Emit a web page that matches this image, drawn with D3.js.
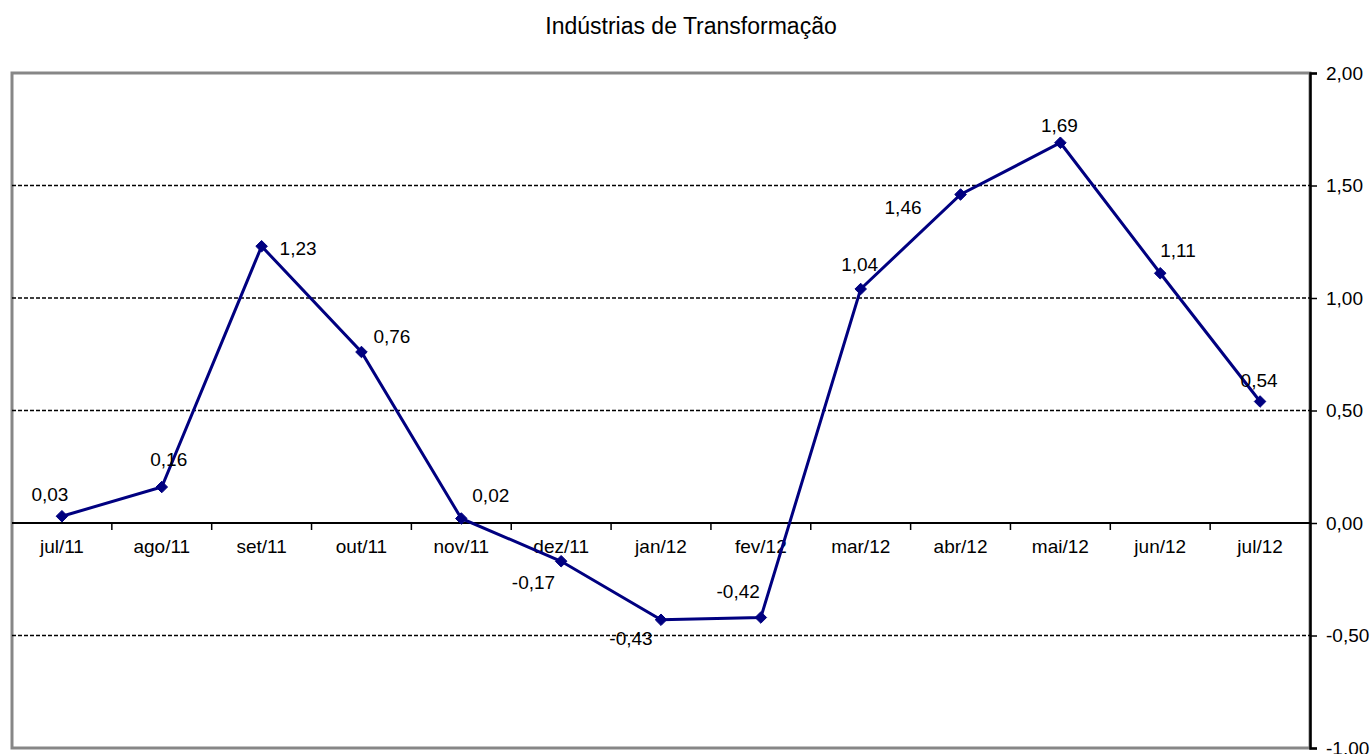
<!DOCTYPE html>
<html>
<head>
<meta charset="utf-8">
<script src="https://cdn.jsdelivr.net/npm/d3@7"></script>
<style>
  body { margin: 0; background: #fff; }
  text { font-family: "Liberation Sans", Arial, sans-serif; fill: #000; }
</style>
</head>
<body>
<script>
// chart data
const months = ["jul/11", "ago/11", "set/11", "out/11", "nov/11", "dez/11", "jan/12",
                "fev/12", "mar/12", "abr/12", "mai/12", "jun/12", "jul/12"];
const values = [0.03, 0.16, 1.23, 0.76, 0.02, -0.17, -0.43, -0.42, 1.04, 1.46, 1.69, 1.11, 0.54];
const yTicks = [-1, -0.5, 0, 0.5, 1, 1.5, 2];
const gridValues = [-0.5, 0.5, 1, 1.5];

// where each data label sits relative to its point: [dx, dy, anchor]
const labelPlacement = [
    [-12, -15, "middle"], [7, -21, "middle"], [18, 9, "start"], [12, -9, "start"],
    [11, -17, "start"], [-6, 28, "end"], [-30, 25, "middle"], [-1, -20, "end"],
    [-1, -18, "middle"], [-39, 19, "end"], [-1, -11, "middle"], [0, -16, "start"],
    [-1, -15, "middle"]
];

const DIM = { width: 1372, height: 754, left: 12, right: 1310, top: 73, bottom: 748 };

const fmt = v => d3.format(".2f")(v).replace(".", ",").replace("−", "-");

const svg = d3.select("body").append("svg")
    .attr("width", DIM.width)
    .attr("height", DIM.height);

const x = d3.scaleBand()
    .domain(months)
    .range([DIM.left, DIM.right]);

const y = d3.scaleLinear()
    .domain([-1, 2])
    .range([DIM.bottom, DIM.top]);

// title
svg.append("text")
    .attr("x", 691)
    .attr("y", 34)
    .attr("text-anchor", "middle")
    .style("font-size", "23px")
    .text("Indústrias de Transformação");

// plot area border
svg.append("rect")
    .attr("x", DIM.left)
    .attr("y", DIM.top)
    .attr("width", DIM.right - DIM.left)
    .attr("height", DIM.bottom - DIM.top)
    .attr("fill", "none")
    .attr("stroke", "#878787")
    .attr("stroke-width", 3);

// dashed gridlines
svg.append("g")
    .selectAll("line")
    .data(gridValues)
    .enter()
    .append("line")
    .attr("x1", DIM.left)
    .attr("x2", DIM.right)
    .attr("y1", d => y(d))
    .attr("y2", d => y(d))
    .attr("stroke", "#000")
    .attr("stroke-width", 1.4)
    .attr("stroke-dasharray", "4,2");

// right value axis
const yAxis = svg.append("g")
    .attr("transform", `translate(${DIM.right},0)`)
    .call(d3.axisRight(y).tickValues(yTicks).tickSize(7).tickPadding(9).tickFormat(fmt));
yAxis.select(".domain").attr("stroke", "#000").attr("stroke-width", 2.5);
yAxis.selectAll(".tick line").attr("stroke", "#000").attr("stroke-width", 1.5);
yAxis.selectAll(".tick text")
    .style("font-size", "19px")
    .style("font-family", "'Liberation Sans', Arial, sans-serif");

// category axis sitting on zero
const xAxis = svg.append("g")
    .attr("transform", `translate(0,${y(0)})`)
    .call(d3.axisBottom(x).tickSize(0).tickPadding(17));
xAxis.select(".domain").attr("stroke", "#000").attr("stroke-width", 2)
    .attr("d", `M${DIM.left},0H${DIM.right}`);
xAxis.selectAll(".tick text")
    .style("font-size", "19px")
    .style("font-family", "'Liberation Sans', Arial, sans-serif");

// boundary tick marks between categories
xAxis.append("g")
    .selectAll("line")
    .data(months.slice(1))
    .enter()
    .append("line")
    .attr("x1", d => x(d))
    .attr("x2", d => x(d))
    .attr("y1", 0)
    .attr("y2", 7)
    .attr("stroke", "#000")
    .attr("stroke-width", 1.5);

const cx = (d, i) => x(months[i]) + x.bandwidth() / 2;

// series line
const line = d3.line()
    .x((d, i) => cx(d, i))
    .y(d => y(d));

svg.append("path")
    .datum(values)
    .attr("d", line)
    .attr("fill", "none")
    .attr("stroke", "#000080")
    .attr("stroke-width", 3);

// diamond markers
svg.append("g")
    .selectAll("path")
    .data(values)
    .enter()
    .append("path")
    .attr("d", d3.symbol().type(d3.symbolDiamond2).size(85))
    .attr("transform", (d, i) => `translate(${cx(d, i)},${y(d)})`)
    .attr("fill", "#000080")
    .attr("stroke", "#000080")
    .attr("stroke-width", 1);

// data labels
svg.append("g")
    .selectAll("text")
    .data(values)
    .enter()
    .append("text")
    .attr("x", (d, i) => cx(d, i) + labelPlacement[i][0])
    .attr("y", (d, i) => y(d) + labelPlacement[i][1])
    .attr("text-anchor", (d, i) => labelPlacement[i][2])
    .style("font-size", "19px")
    .text(d => fmt(d));
</script>
</body>
</html>
